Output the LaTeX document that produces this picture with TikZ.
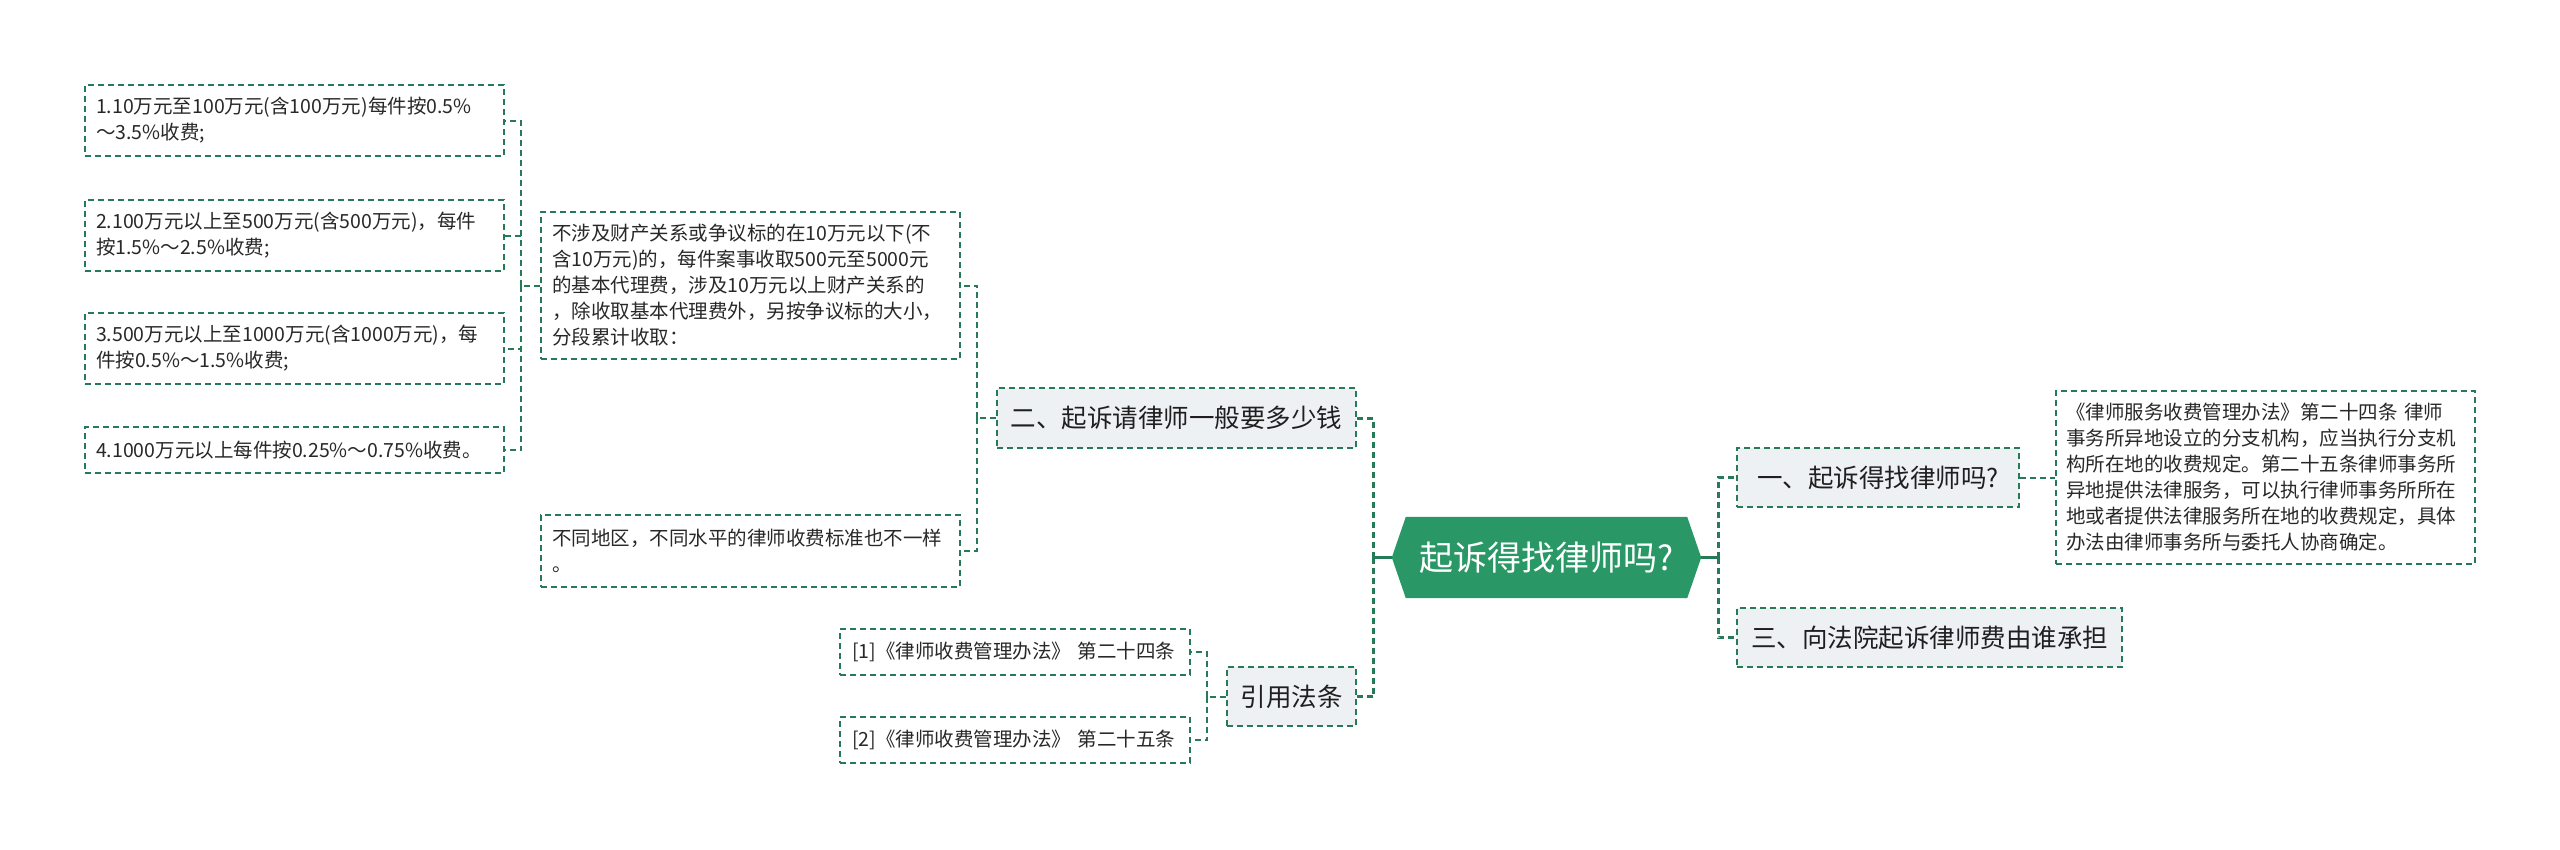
\documentclass[tikz,border=0pt]{standalone}
\usepackage{fontspec}
\setmainfont{Noto Sans CJK SC}
\usetikzlibrary{backgrounds}
\definecolor{lc}{RGB}{38,122,88}
\definecolor{rootfill}{RGB}{42,152,102}
\definecolor{midfill}{RGB}{238,241,244}
\definecolor{txt}{RGB}{40,40,40}
\newcommand{\fsmall}{\fontsize{19.5}{26}\selectfont}
\newcommand{\fmid}{\fontsize{25.5}{30}\selectfont}
\newcommand{\froot}{\fontsize{34}{40}\selectfont}
\begin{document}
\begin{tikzpicture}[x=1pt,y=-1pt,
  leafbox/.style={draw=lc, line width=2pt, dash pattern=on 6pt off 4pt, fill=white,
    inner xsep=11pt, inner ysep=0pt, align=left, font=\fsmall, text=txt},
  midbox/.style={draw=lc, line width=2pt, dash pattern=on 6pt off 4pt, fill=midfill,
    inner sep=0pt, align=center, font=\fmid, text=black!88, minimum height=59pt},
  conn/.style={draw=lc, line width=2pt, dash pattern=on 6pt off 4pt},
  conntwo/.style={draw=lc, line width=3pt, dash pattern=on 6pt off 4pt},
  stubline/.style={draw=lc, line width=3pt}
]
\useasboundingbox (0,0) rectangle (2560,849);

% left leaves
\node[leafbox, text width=397pt, minimum height=71pt] (b1) at (294.5,120.5)
  {1.10万元至100万元(含100万元)每件按0.5\%\\～3.5\%收费;};
\node[leafbox, text width=397pt, minimum height=71pt] (b2) at (294.5,235.5)
  {2.100万元以上至500万元(含500万元)，每件\\按1.5\%～2.5\%收费;};
\node[leafbox, text width=397pt, minimum height=71pt] (b3) at (294.5,348.5)
  {3.500万元以上至1000万元(含1000万元)，每\\件按0.5\%～1.5\%收费;};
\node[leafbox, text width=397pt, minimum height=46pt] (b4) at (294.5,450)
  {4.1000万元以上每件按0.25\%～0.75\%收费。};

\node[leafbox, text width=397pt, minimum height=147pt] (p1) at (750.5,285.5)
  {不涉及财产关系或争议标的在10万元以下(不\\含10万元)的，每件案事收取500元至5000元\\的基本代理费，涉及10万元以上财产关系的\\，除收取基本代理费外，另按争议标的大小，\\分段累计收取：};
\node[leafbox, text width=397pt, minimum height=72pt] (p2) at (750.5,551)
  {不同地区，不同水平的律师收费标准也不一样\\。};

% refs
\node[leafbox, inner xsep=12pt, text width=326pt, minimum height=46pt] (ref1) at (1015,652)
  {[1]《律师收费管理办法》 第二十四条};
\node[leafbox, inner xsep=12pt, text width=326pt, minimum height=46pt] (ref2) at (1015,740)
  {[2]《律师收费管理办法》 第二十五条};

% mid nodes
\node[midbox, minimum width=359pt, minimum height=60pt] (n2) at (1176.5,418) {二、起诉请律师一般要多少钱};
\node[midbox, minimum width=129pt] (cite) at (1291.5,696.5) {引用法条};
\node[midbox, minimum width=282pt] (r1) at (1878,477.5) {一、起诉得找律师吗?};
\node[midbox, minimum width=385pt] (r3) at (1929.5,637.5) {三、向法院起诉律师费由谁承担};

% right leaf
\node[leafbox, inner xsep=10pt, text width=399pt, minimum height=173pt] (rb) at (2265.5,477.5)
  {《律师服务收费管理办法》第二十四条 律师\\事务所异地设立的分支机构，应当执行分支机\\构所在地的收费规定。第二十五条律师事务所\\异地提供法律服务，可以执行律师事务所所在\\地或者提供法律服务所在地的收费规定，具体\\办法由律师事务所与委托人协商确定。};

% root
\node[minimum width=309pt, minimum height=81pt, inner sep=0pt, font=\froot, text=white] (root) at (1546.5,557.5) {起诉得找律师吗?};
\begin{scope}[on background layer]
\fill[rootfill] (root.west) -- ([xshift=14pt]root.north west) -- ([xshift=-14pt]root.north east)
  -- (root.east) -- ([xshift=-14pt]root.south east) -- ([xshift=14pt]root.south west) -- cycle;
\end{scope}

% connectors
\coordinate (jl) at ([xshift=-18pt]root.west);
\coordinate (jr) at ([xshift=17pt]root.east);
\draw[stubline] (root.west) -- (jl);
\draw[stubline] (root.east) -- (jr);
\draw[conntwo] (jl) |- (n2.east);
\draw[conntwo] (jl) |- (cite.east);
\draw[conntwo] (jr) |- (r1.west);
\draw[conntwo] (jr) |- (r3.west);

\coordinate (jp) at ([xshift=-19pt]n2.west);
\draw[conn] (n2.west) -- (jp);
\draw[conn] (jp) |- (p1.east);
\draw[conn] (jp) |- (p2.east);

\coordinate (jb) at ([xshift=-19pt]p1.west);
\draw[conn] (p1.west) -- (jb);
\draw[conn] (jb) |- (b1.east);
\draw[conn] (jb) |- (b2.east);
\draw[conn] (jb) |- (b3.east);
\draw[conn] (jb) |- (b4.east);

\coordinate (jc) at ([xshift=-19pt]cite.west);
\draw[conn] (cite.west) -- (jc);
\draw[conn] (jc) |- (ref1.east);
\draw[conn] (jc) |- (ref2.east);

\draw[conn] (r1.east) -- (rb.west);
\end{tikzpicture}
\end{document}
